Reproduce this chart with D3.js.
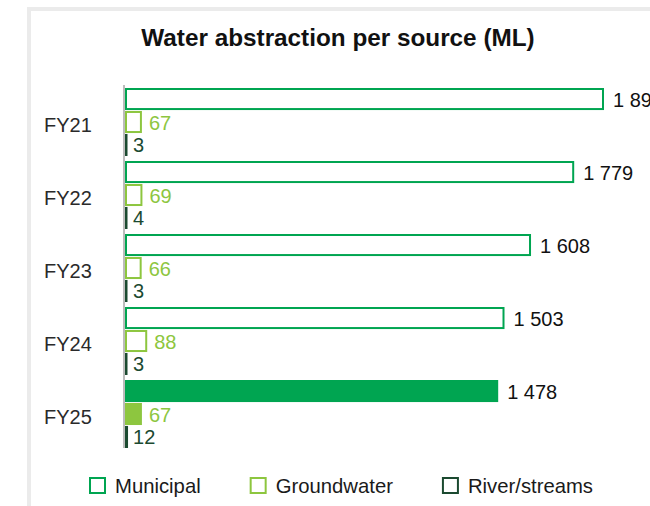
<!DOCTYPE html>
<html>
<head>
<meta charset="utf-8">
<script src="https://cdn.jsdelivr.net/npm/d3@7/dist/d3.min.js"></script>
<style>
  html, body { margin: 0; padding: 0; background: #fff; overflow: hidden; }
  svg { display: block; font-family: "Liberation Sans", Arial, sans-serif; }
</style>
</head>
<body>
<svg id="chart" width="650" height="506"></svg>
<script>
// Fiscal years shown on the category axis
const years = ["FY21", "FY22", "FY23", "FY24", "FY25"];
// Abstraction volumes per source (ML)
const municipal   = [1897, 1779, 1608, 1503, 1478];
const groundwater = [67, 69, 66, 88, 67];
const rivers      = [3, 4, 3, 3, 12];
// Series names for the legend
const seriesNames = ["Municipal", "Groundwater", "River/streams"];
const seriesColors = ["#00a551", "#8dc63f", "#1b4a30"];
const labelColors  = ["#111111", "#8dc63f", "#1b4a30"];
// Only the latest year is drawn solid
const highlightYear = "FY25";

const seriesValues = [municipal, groundwater, rivers];
const rows = years.map((y, i) => ({
  year: y,
  bars: seriesNames.map((s, k) => ({ series: s, k, value: seriesValues[k][i] }))
}));

const svg = d3.select("#chart");

// light frame around the panel
svg.append("rect")
  .attr("x", 29).attr("y", 9)
  .attr("width", 700).attr("height", 600)
  .attr("fill", "none")
  .attr("stroke", "#ebebeb")
  .attr("stroke-width", 4);

svg.append("text")
  .attr("x", 338).attr("y", 46)
  .attr("text-anchor", "middle")
  .attr("font-weight", "bold")
  .attr("font-size", 24.3)
  .attr("fill", "#111")
  .text("Water abstraction per source (ML)");

const x = d3.scaleLinear().domain([0, 2000]).range([125, 630]);
const y = d3.scaleBand().domain(years).range([88, 448]).paddingInner(5 / 73);
const ys = d3.scaleBand().domain(seriesNames).range([0, y.bandwidth()]).paddingInner(0.04);

const groups = svg.append("g").selectAll("g")
  .data(rows).join("g")
  .attr("transform", d => `translate(0,${y(d.year)})`);

// category labels
groups.append("text")
  .attr("x", 44)
  .attr("y", y.bandwidth() / 2 + 9.5)
  .attr("font-size", 20)
  .attr("fill", "#2a2a2a")
  .text(d => d.year);

const bars = groups.selectAll("g.bar")
  .data(d => d.bars.map(b => Object.assign({ solid: d.year === highlightYear }, b)))
  .join("g").attr("class", "bar");

// outlined bars keep their stroke inside the value extent; hairline values stay visible
bars.append("rect")
  .attr("x", d => d.solid ? x(0) : x(0) + 1)
  .attr("y", d => d.solid ? ys(d.series) : ys(d.series) + 1)
  .attr("width", d => d.solid ? x(d.value) - x(0) : Math.max(0.5, x(d.value) - x(0) - 2))
  .attr("height", d => d.solid ? ys.bandwidth() : ys.bandwidth() - 2)
  .attr("fill", d => d.solid ? seriesColors[d.k] : "#fff")
  .attr("stroke", d => d.solid ? "none" : seriesColors[d.k])
  .attr("stroke-width", 2);

const fmt = v => d3.format(",")(v).replace(/,/g, " ");
const labelGap = [9, 7, 5];

bars.append("text")
  .attr("x", d => Math.max(x(d.value), x(0) + 3) + labelGap[d.k])
  .attr("y", d => ys(d.series) + ys.bandwidth() / 2 + 7.5)
  .attr("font-size", 20)
  .attr("fill", d => labelColors[d.k])
  .text(d => fmt(d.value));

// category axis line
svg.append("line")
  .attr("x1", x(0) - 1).attr("x2", x(0) - 1)
  .attr("y1", 85).attr("y2", 448)
  .attr("stroke", "#a6a6a6")
  .attr("stroke-width", 1.5);

// legend
const legend = svg.append("g");
let lx = 89;
seriesNames.forEach((name, k) => {
  legend.append("rect")
    .attr("x", lx + 1).attr("y", 478)
    .attr("width", 15).attr("height", 15)
    .attr("fill", "#fff")
    .attr("stroke", seriesColors[k])
    .attr("stroke-width", 2);
  const t = legend.append("text")
    .attr("x", lx + 26).attr("y", 492.5)
    .attr("font-size", 20.3)
    .attr("fill", "#1a1a1a")
    .text(name);
  lx = lx + 26 + t.node().getComputedTextLength() + 49;
});
</script>
</body>
</html>
